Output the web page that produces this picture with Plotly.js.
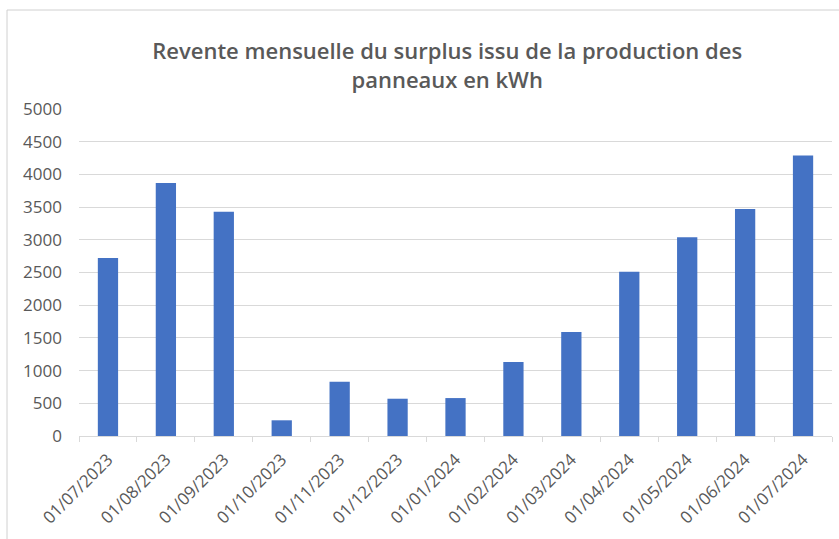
<!DOCTYPE html>
<html>
<head>
<meta charset="utf-8">
<script src="https://cdn.plot.ly/plotly-3.0.1.min.js"></script>
<style>html,body{margin:0;padding:0;background:#fff;}#chart{width:839px;height:539px;}</style>
</head>
<body>
<div id="chart"></div>
<script>
const months = ["01/07/2023","01/08/2023","01/09/2023","01/10/2023","01/11/2023","01/12/2023","01/01/2024","01/02/2024","01/03/2024","01/04/2024","01/05/2024","01/06/2024","01/07/2024"];
const surplusKWh = [2720, 3870, 3430, 240, 830, 570, 580, 1130, 1590, 2510, 3040, 3470, 4290];
const yTicks = [0, 500, 1000, 1500, 2000, 2500, 3000, 3500, 4000, 4500, 5000];

const trace = {
  type: 'bar',
  x: months,
  y: surplusKWh,
  marker: {color: '#4472C4'},
  hoverinfo: 'x+y'
};

const layout = {
  width: 839, height: 539,
  margin: {l: 79, r: 7, t: 109, b: 103},
  paper_bgcolor: '#ffffff', plot_bgcolor: '#ffffff',
  bargap: 0.65,
  showlegend: false,
  font: {family: 'Open Sans, sans-serif', color: '#595959'},
  title: {
    text: 'Revente mensuelle du surplus issu de la production des<br>panneaux en kWh',
    font: {family: 'Open Sans, sans-serif', size: 22, color: '#595959', weight: 600},
    x: 0.489, xanchor: 'center', xref: 'paper',
    y: 1 - 59/539, yanchor: 'middle', yref: 'container'
  },
  xaxis: {
    type: 'category',
    tickangle: -45,
    tickfont: {size: 17, color: '#595959'},
    ticklabelstandoff: 6,
    showgrid: false,
    showline: true, linecolor: '#d9d9d9', linewidth: 1,
    ticks: 'outside', tickson: 'boundaries', ticklen: 5, tickcolor: '#d9d9d9',
    fixedrange: true
  },
  yaxis: {
    range: [0, 5000],
    tickvals: yTicks,
    ticktext: yTicks.map(String),
    tickfont: {size: 17, color: '#595959'},
    ticklabelstandoff: 16,
    showgrid: true, gridcolor: '#d9d9d9', gridwidth: 1,
    zeroline: false, showline: false,
    ticks: '', ticklen: 0,
    fixedrange: true
  },
  shapes: [{
    type: 'rect', xref: 'paper', yref: 'paper',
    x0: -72/753, x1: 1.2, y0: -0.5, y1: 1 + 99/327,
    line: {color: '#d0d0d0', width: 1}, fillcolor: 'rgba(0,0,0,0)', layer: 'below'
  }]
};

Plotly.newPlot('chart', [trace], layout, {displayModeBar: false, staticPlot: true});
</script>
</body>
</html>
